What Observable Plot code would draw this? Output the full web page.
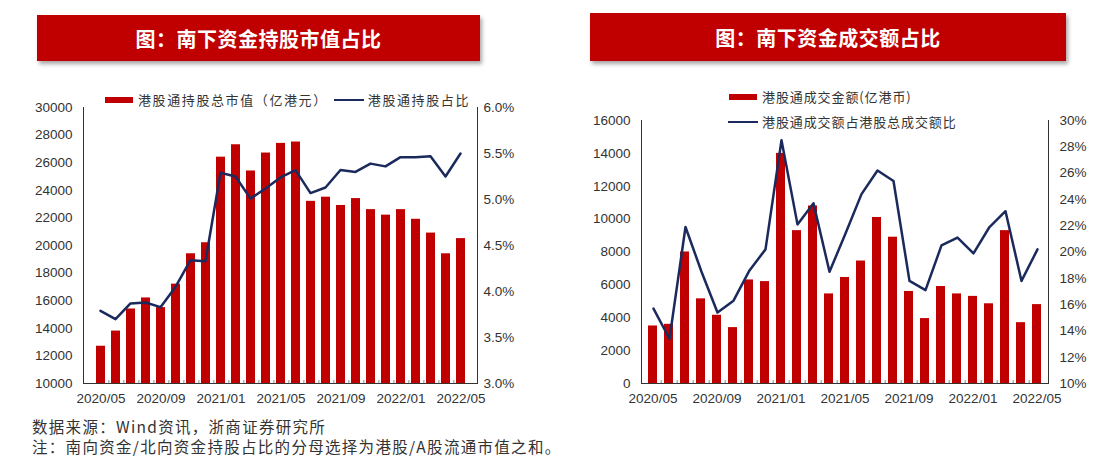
<!DOCTYPE html>
<html><head><meta charset="utf-8">
<script src="https://cdn.jsdelivr.net/npm/d3@7"></script>
<script src="https://cdn.jsdelivr.net/npm/@observablehq/plot@0.6"></script>
<style>
html,body{margin:0;padding:0;background:#fff;}
body{width:1106px;height:470px;position:relative;overflow:hidden;font-family:"Liberation Sans","Noto Sans CJK SC",sans-serif;color:#333;}
.banner{position:absolute;background:#C00000;color:#fff;font-weight:700;font-size:20px;display:flex;align-items:center;justify-content:center;box-shadow:2px 3px 4px rgba(0,0,0,0.35);font-family:"Noto Sans CJK SC",sans-serif;letter-spacing:0.5px;}
.chart{position:absolute;}
.chart svg{position:absolute;left:0;top:0;max-width:none !important;}
.legend{position:absolute;font-family:"Noto Sans CJK SC",sans-serif;font-size:13px;color:#333;display:flex;align-items:center;white-space:nowrap;letter-spacing:0.9px;}
.sw-bar{display:inline-block;width:28px;height:6px;background:#C00000;margin-right:5px;}
.sw-line{display:inline-block;width:30px;height:2px;background:#1B2A5C;margin-right:4px;}
.foot{position:absolute;left:32px;font-family:"Noto Sans CJK SC",sans-serif;font-size:15.5px;color:#333;letter-spacing:1.3px;white-space:nowrap;}
</style>
</head><body>
<div class="banner" style="left:37px;top:15px;width:443px;height:46px;">图：南下资金持股市值占比</div>
<div class="banner" style="left:590px;top:13px;width:476px;height:48px;">图：南下资金成交额占比</div>
<div id="c1" class="chart" style="left:0;top:85px;width:555px;height:330px;"></div>
<div id="c2" class="chart" style="left:560px;top:80px;width:546px;height:340px;"></div>
<div class="legend" style="left:105px;top:90px;letter-spacing:1.6px;"><span class="sw-bar"></span>港股通持股总市值（亿港元）<span class="sw-line" style="margin-left:6px"></span>港股通持股占比</div>
<div class="legend" style="left:729px;top:87px;"><span class="sw-bar"></span>港股通成交金额(亿港币)</div>
<div class="legend" style="left:728px;top:112px;"><span class="sw-line"></span>港股通成交额占港股总成交额比</div>
<div class="foot" style="top:415px;">数据来源：Wind资讯，浙商证券研究所</div>
<div class="foot" style="top:435px;">注：南向资金/北向资金持股占比的分母选择为港股/A股流通市值之和。</div>
<script>
const months = ["2020/05","2020/06","2020/07","2020/08","2020/09","2020/10","2020/11","2020/12",
  "2021/01","2021/02","2021/03","2021/04","2021/05","2021/06","2021/07","2021/08","2021/09","2021/10","2021/11","2021/12",
  "2022/01","2022/02","2022/03","2022/04","2022/05"];
const xTickLabels = ["2020/05","2020/09","2021/01","2021/05","2021/09","2022/01","2022/05"];

// 南下资金持股市值 (亿港元) and 持股占比 (%)
const holdValue = [12700,13800,15400,16200,15500,17200,19400,20200,26400,27300,25400,26700,27400,27500,23200,23500,22900,23400,22600,22200,22600,21900,20900,19400,20500];
const holdShare = [3.79,3.70,3.87,3.88,3.83,4.05,4.34,4.33,5.29,5.25,5.01,5.12,5.24,5.32,5.07,5.13,5.32,5.30,5.39,5.36,5.46,5.46,5.47,5.25,5.50];
const holdValueTicks = [10000,12000,14000,16000,18000,20000,22000,24000,26000,28000,30000];
const holdShareTicks = [3.0,3.5,4.0,4.5,5.0,5.5,6.0];

// 南下资金成交金额 (亿港币) and 成交额占比 (%)
const tradeValue = [3500,3600,8000,5150,4150,3400,6300,6200,14000,9300,10800,5450,6450,7450,10100,8900,5600,3950,5900,5450,5300,4850,9300,3700,4800];
const tradeShare = [15.7,13.4,21.9,18.5,15.4,16.3,18.6,20.2,28.5,22.1,23.7,18.5,21.4,24.4,26.2,25.4,17.8,17.1,20.5,21.1,19.9,21.9,23.1,17.8,20.2];
const tradeValueTicks = [0,2000,4000,6000,8000,10000,12000,14000,16000];
const tradeShareTicks = [10,12,14,16,18,20,22,24,26,28,30];

const BAR = "#C00000", LINE = "#1B2A5C", AXIS = "#8a8a8a";

function dual(el, cfg) {
  const {width, height, mL, mR, mT, mB, values, shares, yL, yLTicks, yR, yRTicks, fmtR, padR} = cfg;
  const data = months.map((m, i) => ({month: m, value: values[i], share: shares[i]}));
  const step = (width - mL - mR) / months.length;
  const innerH = height - mT - mB;
  const font = {fontSize: "13.5px", fontFamily: "'Liberation Sans', Arial, sans-serif", color: "#333", background: "transparent", overflow: "visible"};
  const xBase = {domain: months, paddingInner: 0.42, paddingOuter: 0.21, label: null};
  const p1 = Plot.plot({
    width, height, marginLeft: mL, marginRight: mR, marginTop: mT, marginBottom: mB,
    style: font,
    x: {...xBase, ticks: xTickLabels, tickSize: 0, tickPadding: 10, line: true},
    y: {domain: yL, ticks: yLTicks, tickFormat: d => String(d), tickSize: 0, tickPadding: 11, label: null, line: true, clamp: true},
    marks: [
      Plot.barY(data, {x: "month", y: "value", fill: BAR}),
      Plot.ruleX(months.slice(0, -1), {x: d => d, dx: step / 2, stroke: AXIS, insetTop: innerH - 3})
    ]
  });
  const p2 = Plot.plot({
    width, height, marginLeft: mL, marginRight: mR, marginTop: mT, marginBottom: mB,
    style: font,
    x: {...xBase, axis: null},
    y: {domain: yR, ticks: yRTicks, tickFormat: fmtR, axis: "right", tickSize: 0, tickPadding: padR, label: null, line: true},
    marks: [
      Plot.line(data, {x: "month", y: "share", stroke: LINE, strokeWidth: 2.5})
    ]
  });
  el.append(p1);
  el.append(p2);
  for (const svg of [p1, p2]) {
    d3.select(svg).selectAll(".domain").attr("stroke", AXIS);
  }
}

dual(document.getElementById("c1"), {
  width: 555, height: 330, mL: 83, mR: 78, mT: 22, mB: 32,
  values: holdValue, shares: holdShare,
  yL: [10000, 30000], yLTicks: holdValueTicks,
  yR: [3, 6], yRTicks: holdShareTicks, fmtR: d => d.toFixed(1) + "%", padR: 6
});
dual(document.getElementById("c2"), {
  width: 546, height: 340, mL: 81, mR: 58, mT: 40, mB: 37,
  values: tradeValue, shares: tradeShare,
  yL: [0, 16000], yLTicks: tradeValueTicks,
  yR: [10, 30], yRTicks: tradeShareTicks, fmtR: d => d + "%", padR: 11
});
</script>
</body></html>
